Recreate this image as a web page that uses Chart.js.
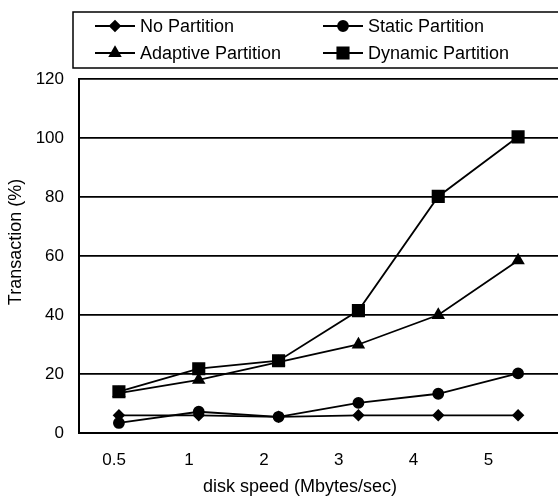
<!DOCTYPE html>
<html>
<head>
<meta charset="utf-8">
<style>
  html, body { margin: 0; padding: 0; background: #fff; }
  #wrap { width: 558px; height: 498px; }
</style>
<script src="https://cdn.jsdelivr.net/npm/chart.js@4/dist/chart.umd.min.js"></script>
</head>
<body>
<div id="wrap"><canvas id="myChart" width="558" height="498"></canvas></div>
<script>
const speeds = ['0.5', '1', '2', '3', '4', '5'];
const noPartition = [6, 6, 5.5, 6, 6, 6];
const staticPartition = [3.4, 7.2, 5.5, 10.2, 13.3, 20.2];
const adaptivePartition = [13.5, 18, 24, 30, 40, 58.5];
const dynamicPartition = [14, 21.8, 24.5, 41.5, 80.2, 100.4];
const yTicks = [0, 20, 40, 60, 80, 100, 120];

const FONT = 'Liberation Sans, Arial, sans-serif';

function series(label, data, style, radius) {
    return {
        label: label,
        data: data,
        xAxisID: 'x',
        borderColor: '#000',
        backgroundColor: '#000',
        borderWidth: 1.8,
        pointStyle: style,
        pointRadius: radius,
        pointHoverRadius: radius,
        tension: 0
    };
}

// legend box and the two axis titles
const extras = {
    id: 'extras',
    afterDraw(chart) {
        const c = chart.ctx;
        const sets = chart.data.datasets;
        c.save();
        c.strokeStyle = '#000';
        c.lineWidth = 1.5;
        c.strokeRect(73, 12, 490, 56);
        const cols = [95, 323];
        const rows = [26, 53];
        c.font = '18px ' + FONT;
        c.textBaseline = 'middle';
        c.fillStyle = '#000';
        for (let i = 0; i < sets.length; i++) {
            const x = cols[i % 2], y = rows[Math.floor(i / 2)];
            c.lineWidth = 1.8;
            c.beginPath();
            c.moveTo(x, y);
            c.lineTo(x + 40, y);
            c.stroke();
            Chart.helpers.drawPoint(c, {
                pointStyle: sets[i].pointStyle,
                radius: sets[i].pointRadius,
                rotation: 0,
                borderWidth: 1
            }, x + 20, y);
            c.fillText(sets[i].label, x + 45, y + 1);
        }

        c.textAlign = 'center';
        c.fillText('disk speed (Mbytes/sec)', 300, 487);
        c.translate(16, 242);
        c.rotate(-Math.PI / 2);
        c.fillText('Transaction (%)', 0, 0);
        c.restore();
    }
};

const ctx = document.getElementById('myChart');

new Chart(ctx, {
    type: 'line',
    data: {
        labels: speeds,
        datasets: [
            series('No Partition', noPartition, 'rectRot', 5),
            series('Static Partition', staticPartition, 'circle', 5),
            series('Adaptive Partition', adaptivePartition, 'triangle', 6),
            series('Dynamic Partition', dynamicPartition, 'rect', 8)
        ]
    },
    options: {
        responsive: false,
        animation: false,
        clip: false,
        layout: { autoPadding: false, padding: { top: 79, right: -4, left: 0, bottom: 0 } },
        plugins: {
            legend: { display: false },
            tooltip: { enabled: false }
        },
        scales: {
            x: {
                offset: true,
                display: false
            },
            // label axis: the printed labels sit a little left of the points
            xLabels: {
                type: 'linear',
                position: 'bottom',
                min: -0.47,
                max: 5.93,
                afterBuildTicks(scale) {
                    scale.ticks = speeds.map((s, i) => ({ value: i }));
                },
                grid: { display: false, drawTicks: false },
                border: { color: '#000', width: 2 },
                ticks: {
                    color: '#000',
                    font: { family: FONT, size: 17 },
                    padding: 17,
                    maxRotation: 0,
                    callback: (v, i) => speeds[i]
                },
                afterFit(scale) { scale.height = 65; }
            },
            y: {
                min: 0,
                max: 120,
                afterBuildTicks(scale) {
                    scale.ticks = yTicks.map(v => ({ value: v }));
                },
                grid: { color: '#000', lineWidth: 1.8, drawTicks: false },
                border: { color: '#000', width: 2 },
                ticks: { color: '#000', font: { family: FONT, size: 17 }, padding: 15 },
                afterFit(scale) { scale.width = 79; }
            }
        }
    },
    plugins: [extras]
});
</script>
</body>
</html>
